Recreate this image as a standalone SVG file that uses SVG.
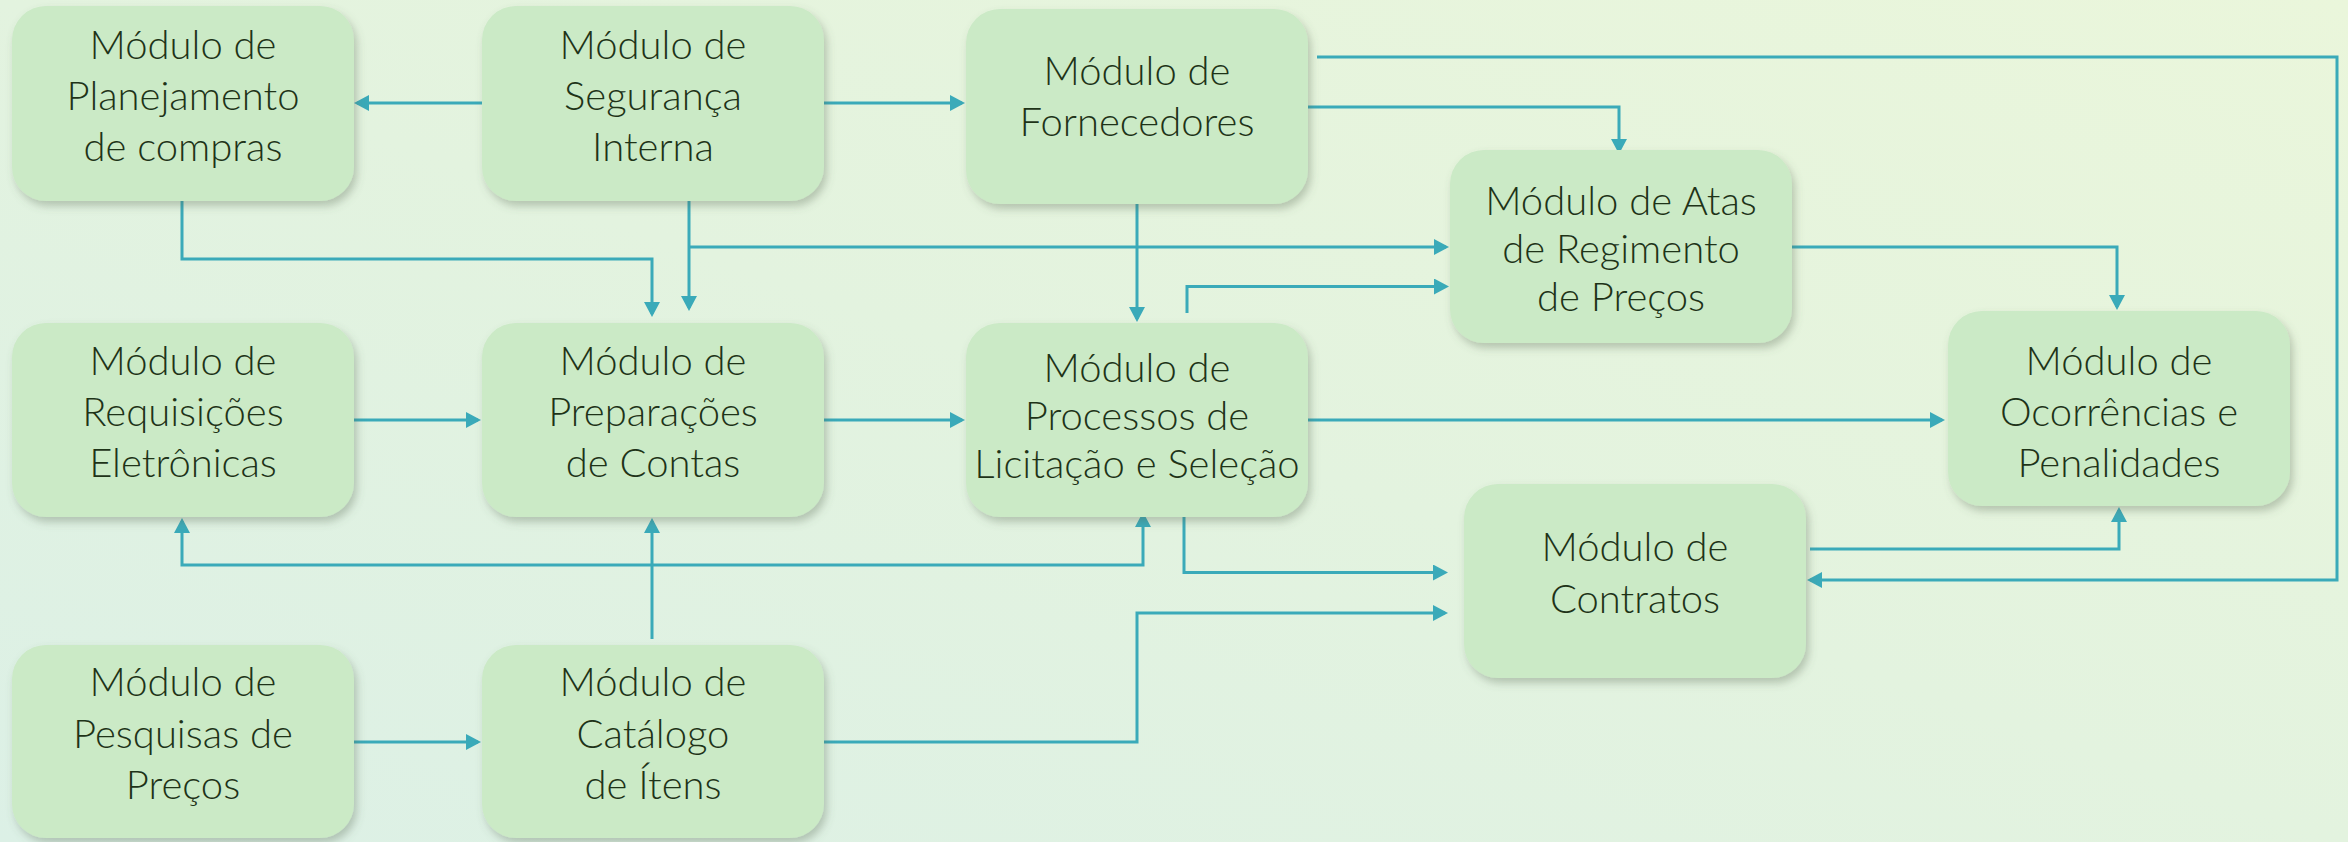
<svg xmlns="http://www.w3.org/2000/svg" width="2348" height="842" viewBox="0 0 2348 842">
<defs>
<linearGradient id="bg" x1="0" y1="1" x2="1" y2="0">
<stop offset="0" stop-color="#DCF0E6"/>
<stop offset="0.5" stop-color="#E3F3DF"/>
<stop offset="1" stop-color="#EAF6DB"/>
</linearGradient>
<filter id="sh" x="-10%" y="-10%" width="125%" height="130%">
<feDropShadow dx="3" dy="5" stdDeviation="4" flood-color="#5a6a55" flood-opacity="0.35"/>
</filter>
<marker id="ah" markerUnits="userSpaceOnUse" markerWidth="16" markerHeight="16" viewBox="0 0 15 16" refX="12" refY="8" orient="auto-start-reverse">
<path d="M0,0 L15,8 L0,16 Z" fill="#3AAAB9"/>
</marker>
</defs>
<style>
.box{fill:#CBEAC6;filter:url(#sh)}
.t{font-family:Lato,"Open Sans","Liberation Sans",sans-serif;font-weight:300;font-size:40px;fill:#1E3318;text-anchor:middle}
.c{fill:none;stroke:#3AAAB9;stroke-width:3}
.a{marker-end:url(#ah)}
</style>
<rect width="2348" height="842" fill="url(#bg)"/>

<g id="connectors">
<path class="c a" d="M482,103 H357"/>
<path class="c a" d="M824,103 H962"/>
<path class="c a" d="M1317,57 H2337 V580 H1810"/>
<path class="c a" d="M1308,107 H1619 V151"/>
<path class="c a" d="M182,201 V259 H652 V314"/>
<path class="c a" d="M689,201 V308"/>
<path class="c a" d="M689,247 H1446"/>
<path class="c a" d="M1137,204 V319"/>
<path class="c a" d="M1187,313 V286.5 H1446"/>
<path class="c a" d="M354,420 H478"/>
<path class="c a" d="M824,420 H962"/>
<path class="c a" d="M1308,420 H1942"/>
<path class="c a" d="M1792,247 H2117 V307"/>
<path class="c a" d="M1810,549 H2119 V510"/>
<path class="c a" d="M1184,517 V572.5 H1445"/>
<path class="c a" d="M824,742 H1137 V613 H1445"/>
<path class="c a" d="M652,639 V521"/>
<path class="c a" d="M182,521 V565 H1143 V515" marker-start="url(#ah)"/>
<path class="c a" d="M354,742 H478"/>
</g>

<g id="planejamento">
<rect class="box" x="12" y="6" width="342" height="195" rx="34"/>
<text class="t" x="183" y="59">Módulo de</text>
<text class="t" x="183" y="110">Planejamento</text>
<text class="t" x="183" y="161">de compras</text>
</g>
<g id="seguranca">
<rect class="box" x="482" y="6" width="342" height="195" rx="34"/>
<text class="t" x="653" y="59">Módulo de</text>
<text class="t" x="653" y="110">Segurança</text>
<text class="t" x="653" y="161">Interna</text>
</g>
<g id="fornecedores">
<rect class="box" x="966" y="9" width="342" height="195" rx="34"/>
<text class="t" x="1137" y="85">Módulo de</text>
<text class="t" x="1137" y="136">Fornecedores</text>
</g>
<g id="atas">
<rect class="box" x="1450" y="150" width="342" height="193" rx="34"/>
<text class="t" x="1621" y="215">Módulo de Atas</text>
<text class="t" x="1621" y="263">de Regimento</text>
<text class="t" x="1621" y="311">de Preços</text>
</g>
<g id="requisicoes">
<rect class="box" x="12" y="323" width="342" height="194" rx="34"/>
<text class="t" x="183" y="375">Módulo de</text>
<text class="t" x="183" y="426">Requisições</text>
<text class="t" x="183" y="477">Eletrônicas</text>
</g>
<g id="preparacoes">
<rect class="box" x="482" y="323" width="342" height="194" rx="34"/>
<text class="t" x="653" y="375">Módulo de</text>
<text class="t" x="653" y="426">Preparações</text>
<text class="t" x="653" y="477">de Contas</text>
</g>
<g id="processos">
<rect class="box" x="966" y="323" width="342" height="194" rx="34"/>
<text class="t" x="1137" y="382">Módulo de</text>
<text class="t" x="1137" y="430">Processos de</text>
<text class="t" x="1137" y="478">Licitação e Seleção</text>
</g>
<g id="ocorrencias">
<rect class="box" x="1948" y="311" width="342" height="195" rx="34"/>
<text class="t" x="2119" y="375">Módulo de</text>
<text class="t" x="2119" y="426">Ocorrências e</text>
<text class="t" x="2119" y="477">Penalidades</text>
</g>
<g id="contratos">
<rect class="box" x="1464" y="484" width="342" height="194" rx="34"/>
<text class="t" x="1635" y="561">Módulo de</text>
<text class="t" x="1635" y="613">Contratos</text>
</g>
<g id="pesquisas">
<rect class="box" x="12" y="645" width="342" height="193" rx="34"/>
<text class="t" x="183" y="696">Módulo de</text>
<text class="t" x="183" y="748">Pesquisas de</text>
<text class="t" x="183" y="799">Preços</text>
</g>
<g id="catalogo">
<rect class="box" x="482" y="645" width="342" height="193" rx="34"/>
<text class="t" x="653" y="696">Módulo de</text>
<text class="t" x="653" y="748">Catálogo</text>
<text class="t" x="653" y="799">de Ítens</text>
</g>
</svg>
